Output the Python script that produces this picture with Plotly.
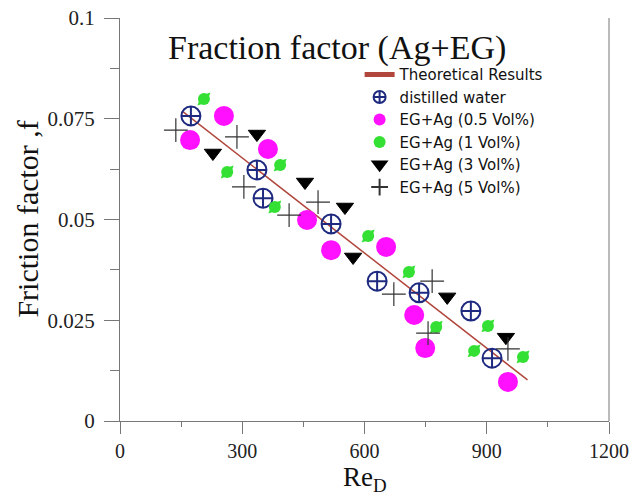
import plotly.graph_objects as go

# ---- data ----
theory_re = [155, 1000]
theory_f = [0.0767, 0.0102]

water_re = [174, 336, 351, 518, 631, 734, 861, 913]
water_f = [0.0757, 0.0623, 0.0553, 0.0489, 0.0347, 0.0318, 0.0273, 0.0156]

ag05_re = [255, 172, 363, 459, 518, 653, 722, 749, 952]
ag05_f = [0.0757, 0.0697, 0.0675, 0.0499, 0.0424, 0.0432, 0.0263, 0.0181, 0.0097]

ag1_re = [206, 263, 393, 380, 609, 709, 776, 869, 903, 989]
ag1_f = [0.0799, 0.0618, 0.0635, 0.0531, 0.0459, 0.0370, 0.0233, 0.0174, 0.0236, 0.0159]

ag3_re = [228, 336, 454, 552, 572, 803, 947]
ag3_f = [0.0665, 0.0712, 0.0593, 0.0531, 0.0407, 0.0308, 0.0208]

ag5_re = [137, 287, 304, 415, 486, 672, 766, 756, 952]
ag5_f = [0.0722, 0.0705, 0.0581, 0.0511, 0.0543, 0.0315, 0.0347, 0.0218, 0.0179]

x_ticks = [0, 300, 600, 900, 1200]
y_ticks = [0, 0.025, 0.05, 0.075, 0.1]
y_ticktext = ["0", "0.025", "0.05", "0.075", "0.1"]

SERIF = "Liberation Serif, Times New Roman, serif"
SANS = "DejaVu Sans, Arial, sans-serif"
AX = "#777777"

fig = go.Figure()

fig.add_trace(go.Scatter(x=theory_re, y=theory_f, mode="lines", name="Theoretical Results",
                         line=dict(color="#b0463c", width=1.5)))
fig.add_trace(go.Scatter(x=water_re, y=water_f, mode="markers", name="distilled water",
                         marker=dict(symbol="circle-cross-open", size=19, color="#1e2a80",
                                     line=dict(width=2, color="#1e2a80"))))
fig.add_trace(go.Scatter(x=ag05_re, y=ag05_f, mode="markers", name="EG+Ag (0.5 Vol%)",
                         marker=dict(symbol="circle", size=20, color="#ff10ff",
                                     line=dict(width=0))))
# green tails (diagonal tips)
fig.add_trace(go.Scatter(x=ag1_re, y=ag1_f, mode="markers", showlegend=False,
                         legendgroup="g1", hoverinfo="skip",
                         marker=dict(symbol="diamond-tall", size=13, angle=45,
                                     color="#33e033", line=dict(width=0))))
fig.add_trace(go.Scatter(x=ag1_re, y=ag1_f, mode="markers", name="EG+Ag (1 Vol%)",
                         legendgroup="g1",
                         marker=dict(symbol="circle", size=12, color="#33e033",
                                     line=dict(width=0))))
fig.add_trace(go.Scatter(x=ag3_re, y=ag3_f, mode="markers", name="EG+Ag (3 Vol%)",
                         marker=dict(symbol="triangle-down", size=15, color="black",
                                     line=dict(width=1, color="black"))))
fig.add_trace(go.Scatter(x=ag5_re, y=ag5_f, mode="markers", name="EG+Ag (5 Vol%)",
                         marker=dict(symbol="cross-thin-open", size=17, color="#333333",
                                     line=dict(width=1.2, color="#333333"))))

fig.update_layout(
    width=634, height=496,
    margin=dict(l=120, r=25, t=18, b=75, autoexpand=False),
    paper_bgcolor="white", plot_bgcolor="white",
    showlegend=True,
    legend=dict(x=0.49, y=0.9, xanchor="left", yanchor="top",
                bgcolor="rgba(0,0,0,0)", font=dict(family=SANS, size=15, color="#111"),
                itemsizing="constant", tracegroupgap=0),
    xaxis=dict(range=[0, 1200], tickvals=x_ticks, ticks="outside", ticklen=12,
               tickcolor=AX, showline=True, linecolor=AX, linewidth=1,
               showgrid=False, zeroline=False, automargin=False,
               tickfont=dict(family=SERIF, size=20, color="#222"),
               minor=dict(dtick=150, ticks="outside", ticklen=5, tickcolor=AX)),
    yaxis=dict(range=[0, 0.1], tickvals=y_ticks, ticktext=y_ticktext, ticks="outside",
               ticklen=15, tickcolor=AX, showline=True, linecolor=AX, linewidth=1,
               showgrid=False, zeroline=False, ticklabelstandoff=5, automargin=False,
               tickfont=dict(family=SERIF, size=21, color="#222"),
               minor=dict(dtick=0.0125, ticks="outside", ticklen=9, tickcolor=AX)),
    shapes=[dict(type="line", xref="paper", yref="paper", x0=1, x1=1, y0=0, y1=1,
                 line=dict(color=AX, width=1))],
    annotations=[
        dict(text="Fraction factor (Ag+EG)", xref="paper", yref="paper", x=0.444, y=0.925,
             xanchor="center", yanchor="middle", showarrow=False,
             font=dict(family=SERIF, size=34, color="#111")),
        dict(text="Friction factor ,f", xref="paper", yref="paper", x=-0.19, y=0.5,
             xanchor="center", yanchor="middle", textangle=-90, showarrow=False,
             font=dict(family=SERIF, size=30, color="#111")),
        dict(text="Re<sub>D</sub>", xref="paper", yref="paper", x=0.5, y=-0.144,
             xanchor="center", yanchor="middle", showarrow=False,
             font=dict(family=SERIF, size=27, color="#111")),
    ],
)

fig.write_html("out.html", config={"displayModeBar": False},
               post_script="document.body.style.margin='0';document.body.style.overflow='hidden';")
